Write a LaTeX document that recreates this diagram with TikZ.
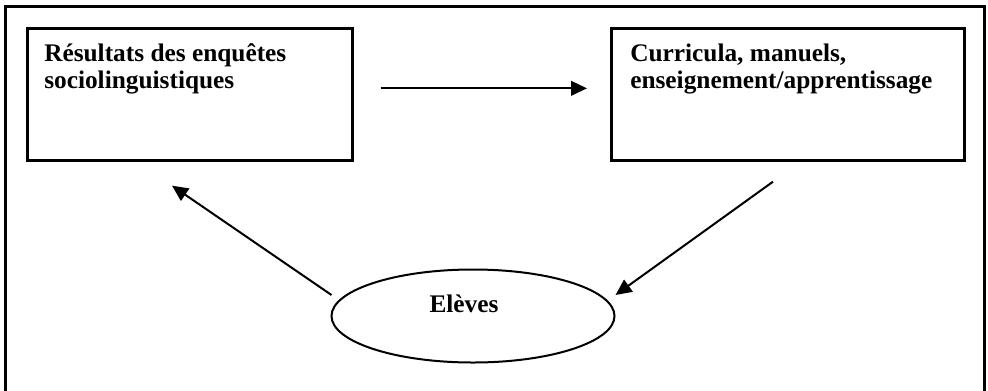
\documentclass[tikz,border=0pt]{standalone}
\usepackage{fontspec}
\setmainfont{Liberation Serif}
\usetikzlibrary{arrows.meta,shapes.geometric,positioning}
\begin{document}
\begin{tikzpicture}[x=0.75pt,y=-0.75pt,
    box/.style={draw,line width=2pt,minimum width=#1,minimum height=99pt,inner sep=0pt,anchor=north west},
    boxtext/.style={font=\bfseries\fontsize{19}{20.25}\selectfont,align=left,anchor=north west,inner sep=0pt},
    flow/.style={line width=1.5pt,-{Triangle[length=12pt,width=11pt]}}]
  \useasboundingbox (0,0) rectangle (988,390);
  % Outer frame (open at the bottom)
  \draw[line width=2.25pt] (5,396) -- (5,6) -- (984,6) -- (984,396);
  % Upper boxes
  \node[box=243.75pt] (results) at (26,27) {};
  \node[box=264.75pt] (curricula) at (610,27) {};
  \node[boxtext] (resultstext) at ([shift={(18,16)}]results.north west) {Résultats des enquêtes\\sociolinguistiques};
  \node[boxtext] (curriculatext) at ([shift={(20,17)}]curricula.north west) {Curricula, manuels,\\enseignement/apprentissage};
  % Pupils
  \node[draw,ellipse,line width=1.5pt,minimum width=212.25pt,minimum height=69.75pt,inner sep=0pt] (eleves) at (473,316) {};
  \node[font=\bfseries\fontsize{19}{20}\selectfont,inner sep=0pt] (elevestext) at ([shift={(-9,-12)}]eleves.center) {Elèves};
  % Arrows
  \coordinate (topstart) at ([shift={(27,-6)}]results.east);
  \coordinate (topend) at ([shift={(-23,-6)}]curricula.west);
  \coordinate (leftstart) at ([shift={(1,-21)}]eleves.west);
  \coordinate (lefttip) at ([shift={(146,24)}]results.south west);
  \coordinate (rightstart) at ([shift={(163,20)}]curricula.south west);
  \coordinate (righttip) at ([shift={(0,-21)}]eleves.east);
  \draw[flow] (topstart) -- (topend);
  \draw[flow] (leftstart) -- (lefttip);
  \draw[flow] (rightstart) -- (righttip);
\end{tikzpicture}
\end{document}
